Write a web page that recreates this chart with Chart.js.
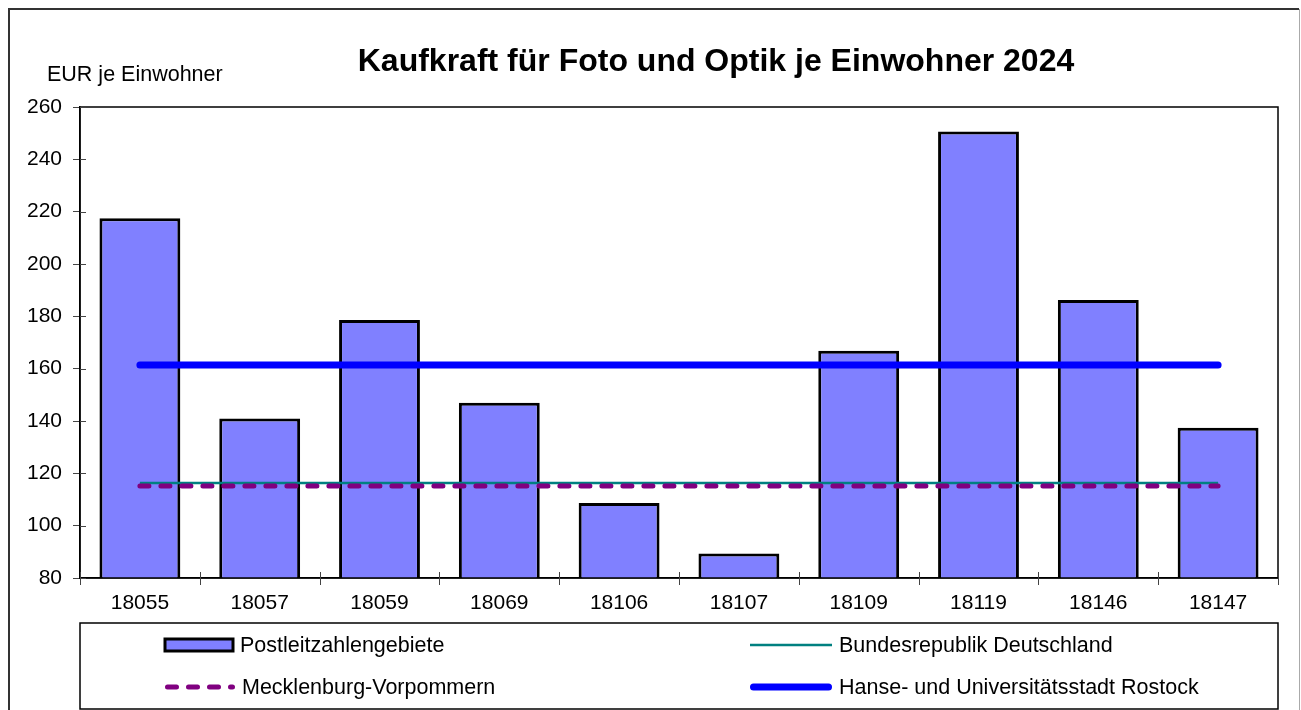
<!DOCTYPE html>
<html><head><meta charset="utf-8">
<script src="https://cdn.jsdelivr.net/npm/chart.js@4/dist/chart.umd.min.js"></script>
<style>html,body{margin:0;padding:0;background:#fff;}canvas{display:block;}</style>
</head><body>
<canvas id="c" width="1301" height="710"></canvas>
<script>
const categories = ['18055','18057','18059','18069','18106','18107','18109','18119','18146','18147'];
const plzValues = [217.5, 141, 178.6, 147, 108.7, 89.4, 166.8, 250.6, 186.2, 137.4];
const bundValue = 116.3;
const mvValue = 115.2;
const rostockValue = 161.4;
const yTicks = [80,100,120,140,160,180,200,220,240,260];
const labels = {
  plz: 'Postleitzahlengebiete',
  bund: 'Bundesrepublik Deutschland',
  mv: 'Mecklenburg-Vorpommern',
  rostock: 'Hanse- und Universitätsstadt Rostock',
  title: 'Kaufkraft für Foto und Optik je Einwohner 2024',
  yTitle: 'EUR je Einwohner'
};

const FONT = '"Liberation Sans", Arial, sans-serif';

const decor = {
  id: 'decor',
  beforeDraw(chart) {
    const ctx = chart.ctx;
    ctx.save();
    ctx.fillStyle = '#fff';
    ctx.fillRect(0,0,chart.width,chart.height);
    ctx.strokeStyle = '#333';
    ctx.lineWidth = 2;
    ctx.beginPath();
    ctx.moveTo(9, 720); ctx.lineTo(9, 9); ctx.lineTo(1299, 9);
    ctx.stroke();
    ctx.strokeStyle = '#aaa';
    ctx.lineWidth = 1;
    ctx.beginPath();
    ctx.moveTo(1299.5, 9); ctx.lineTo(1299.5, 720);
    ctx.stroke();
    ctx.restore();
  },
  afterDatasetsDraw(chart) {
    const ctx = chart.ctx;
    const a = chart.chartArea;
    const ys = chart.scales.y;
    ctx.save();
    ctx.strokeStyle = '#000';
    ctx.lineWidth = 1.5;
    ctx.strokeRect(a.left, a.top, a.right - a.left, a.bottom - a.top);
    ctx.strokeStyle = '#444';
    ctx.lineWidth = 1;
    ys.ticks.forEach((t, i) => {
      const y = Math.round(ys.getPixelForTick(i)) + 0.5;
      ctx.beginPath(); ctx.moveTo(a.left, y); ctx.lineTo(a.left + 6, y); ctx.stroke();
    });
    for (let i = 0; i <= categories.length; i++) {
      const x = Math.round(a.left + (a.right - a.left) * i / categories.length) + 0.5;
      ctx.beginPath(); ctx.moveTo(x, a.bottom - 6); ctx.lineTo(x, a.bottom + 7); ctx.stroke();
    }
    ctx.restore();
  },
  afterDraw(chart) {
    const ctx = chart.ctx;
    const a = chart.chartArea;
    ctx.save();
    ctx.fillStyle = '#000';
    ctx.font = 'bold 32px ' + FONT;
    ctx.textAlign = 'center';
    ctx.textBaseline = 'middle';
    ctx.fillText(labels.title, 716, 62);
    ctx.font = '21.5px ' + FONT;
    ctx.textAlign = 'left';
    ctx.fillText(labels.yTitle, 47, 75);
    ctx.strokeStyle = '#000';
    ctx.lineWidth = 1.5;
    ctx.strokeRect(a.left, 623, a.right - a.left, 86);
    const ds = chart.data.datasets;
    const items = [
      {d: ds[0], x: 165, w: 68, y: 645},
      {d: ds[1], x: 750, w: 82, y: 645},
      {d: ds[2], x: 165, w: 70, y: 687},
      {d: ds[3], x: 750, w: 82, y: 687}
    ];
    items.forEach(it => {
      const d = it.d;
      if (d.type === 'bar') {
        ctx.fillStyle = d.backgroundColor;
        ctx.fillRect(it.x, it.y - 6, it.w, 12);
        ctx.strokeStyle = '#000';
        ctx.lineWidth = 3;
        ctx.strokeRect(it.x, it.y - 6, it.w, 12);
      } else {
        const r = d.borderCapStyle === 'round' ? d.borderWidth / 2 : 0;
        ctx.strokeStyle = d.borderColor;
        ctx.lineWidth = d.borderWidth;
        ctx.lineCap = d.borderCapStyle || 'butt';
        ctx.setLineDash(d.borderDash || []);
        ctx.beginPath();
        ctx.moveTo(it.x + r, it.y);
        ctx.lineTo(it.x + it.w - r, it.y);
        ctx.stroke();
        ctx.setLineDash([]);
      }
      ctx.fillStyle = '#000';
      ctx.font = '21.5px ' + FONT;
      ctx.textAlign = 'left';
      ctx.textBaseline = 'middle';
      ctx.fillText(d.label, it.x + it.w + 7, it.y + 1);
    });
    ctx.restore();
  }
};

new Chart(document.getElementById('c'), {
  data: {
    labels: categories,
    datasets: [
      { type: 'bar', label: labels.plz, data: plzValues, backgroundColor: '#8080FF',
        borderColor: '#000', borderWidth: 3, borderSkipped: false,
        barPercentage: 0.675, categoryPercentage: 1, order: 4 },
      { type: 'line', label: labels.bund, data: categories.map(() => bundValue),
        borderColor: '#008080', borderWidth: 2.5, pointRadius: 0, fill: false, order: 3 },
      { type: 'line', label: labels.mv, data: categories.map(() => mvValue),
        borderColor: '#800080', borderWidth: 5, borderDash: [9, 12], borderCapStyle: 'round',
        pointRadius: 0, fill: false, order: 2 },
      { type: 'line', label: labels.rostock, data: categories.map(() => rostockValue),
        borderColor: '#0000FF', borderWidth: 7, borderCapStyle: 'round',
        pointRadius: 0, fill: false, order: 1 }
    ]
  },
  options: {
    responsive: false,
    animation: false,
    events: [],
    layout: { padding: { left: 10, right: 23, top: 107, bottom: 88 } },
    plugins: { legend: { display: false }, title: { display: false }, tooltip: { enabled: false } },
    scales: {
      x: {
        offset: true,
        grid: { display: true, offset: true, drawOnChartArea: false, drawTicks: false, color: '#444' },
        border: { display: true, color: '#000', width: 1.5 },
        ticks: { color: '#000', font: { family: FONT, size: 21 }, padding: 13, maxRotation: 0 },
        afterFit(s) { s.height = 44; }
      },
      y: {
        min: 80, max: 260,
        afterBuildTicks(s) { s.ticks = yTicks.map(v => ({ value: v })); },
        grid: { display: true, drawOnChartArea: false, drawTicks: true, tickLength: 7, color: '#444' },
        border: { display: true, color: '#000', width: 1.5 },
        ticks: { color: '#000', font: { family: FONT, size: 21 }, padding: 11 },
        afterFit(s) { s.width = 70; }
      }
    }
  },
  plugins: [decor]
});
</script>
</body></html>
